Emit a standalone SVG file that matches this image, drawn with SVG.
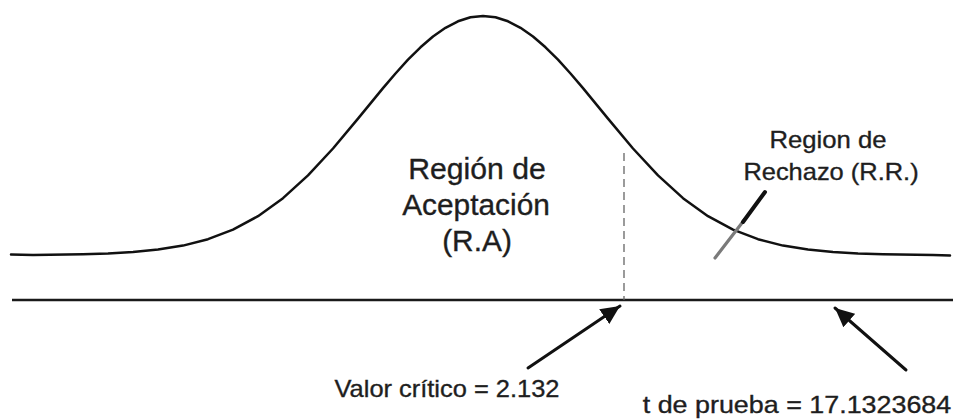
<svg xmlns="http://www.w3.org/2000/svg" width="957" height="419" viewBox="0 0 957 419">
<style>
  .curve { fill: none; stroke: #111; stroke-width: 2.5; stroke-linejoin: round; stroke-linecap: round; }
  .axis { fill: none; stroke: #1a1a1a; stroke-width: 2.5; }
  .dash { fill: none; stroke: #666; stroke-width: 1.3; stroke-dasharray: 8 5; }
  .arrow { fill: none; stroke: #111; stroke-width: 3; stroke-linecap: round; }
  .lbl { font-family: "Liberation Sans", Arial, sans-serif; fill: #1e1e1e; stroke: #1e1e1e; stroke-width: 0.35; text-anchor: middle; }
  .big { font-size: 29px; }
  .mid { font-size: 24px; }
</style>
<defs>
  <marker id="head" markerUnits="userSpaceOnUse" markerWidth="22" markerHeight="20" refX="19" refY="10" orient="auto">
    <path d="M0,1 L19,10 L0,19 Z" fill="#111"/>
  </marker>
</defs>

<g id="curve">
  <polyline class="curve" points="11,254.5 33,254.9 83,254.2 108,253.5 133,252.1 158,249.6 183,245.6 208,239.2 233,229.7 258,216.2 283,198.2 308,175.4 333,148.5 358,118.6 383,88.1 395.5,73.5 408,59.7 420.5,47.3 433,36.5 445.5,27.8 458,21.3 470.5,17.3 483,16 495.5,17.3 508,21.3 520.5,27.8 533,36.5 545.5,47.3 558,59.7 570.5,73.5 583,88.1 608,118.6 633,148.5 658,175.4 683,198.2 708,216.2 733,229.7 758,239.2 783,245.6 808,249.6 833,252.1 858,253.5 883,254.2 933,254.9 950,255.5"/>
</g>

<g id="axis">
  <line class="axis" x1="12" y1="300" x2="953" y2="300"/>
</g>

<g id="critical-line">
  <line class="dash" x1="624" y1="153" x2="624" y2="300"/>
</g>

<g id="rejection-mark">
  <line x1="715" y1="258" x2="745" y2="219" stroke="#7a7a7a" stroke-width="3.2" stroke-linecap="round"/>
  <line x1="743" y1="222" x2="765" y2="192" stroke="#111" stroke-width="4" stroke-linecap="round"/>
</g>

<g id="acceptance-label">
  <text class="lbl big" transform="translate(477,179) scale(1.04,1)">Región de</text>
  <text class="lbl big" transform="translate(476,215) scale(1.03,1)">Aceptación</text>
  <text class="lbl big" transform="translate(477,251) scale(1.03,1)">(R.A)</text>
</g>

<g id="rejection-label">
  <text class="lbl mid" transform="translate(828,148) scale(1.07,1)">Region de</text>
  <text class="lbl mid" transform="translate(831,180) scale(1.06,1)">Rechazo (R.R.)</text>
</g>

<g id="critical-value-label">
  <text class="lbl mid" transform="translate(447,397) scale(1.06,1)">Valor crítico = 2.132</text>
</g>

<g id="test-value-label">
  <text class="lbl mid" transform="translate(797,413) scale(1.12,1)">t de prueba = 17.1323684</text>
</g>

<g id="connectors">
  <line class="arrow" x1="528" y1="368" x2="620" y2="306" marker-end="url(#head)"/>
  <line class="arrow" x1="906" y1="370" x2="835" y2="308" marker-end="url(#head)"/>
</g>
</svg>
